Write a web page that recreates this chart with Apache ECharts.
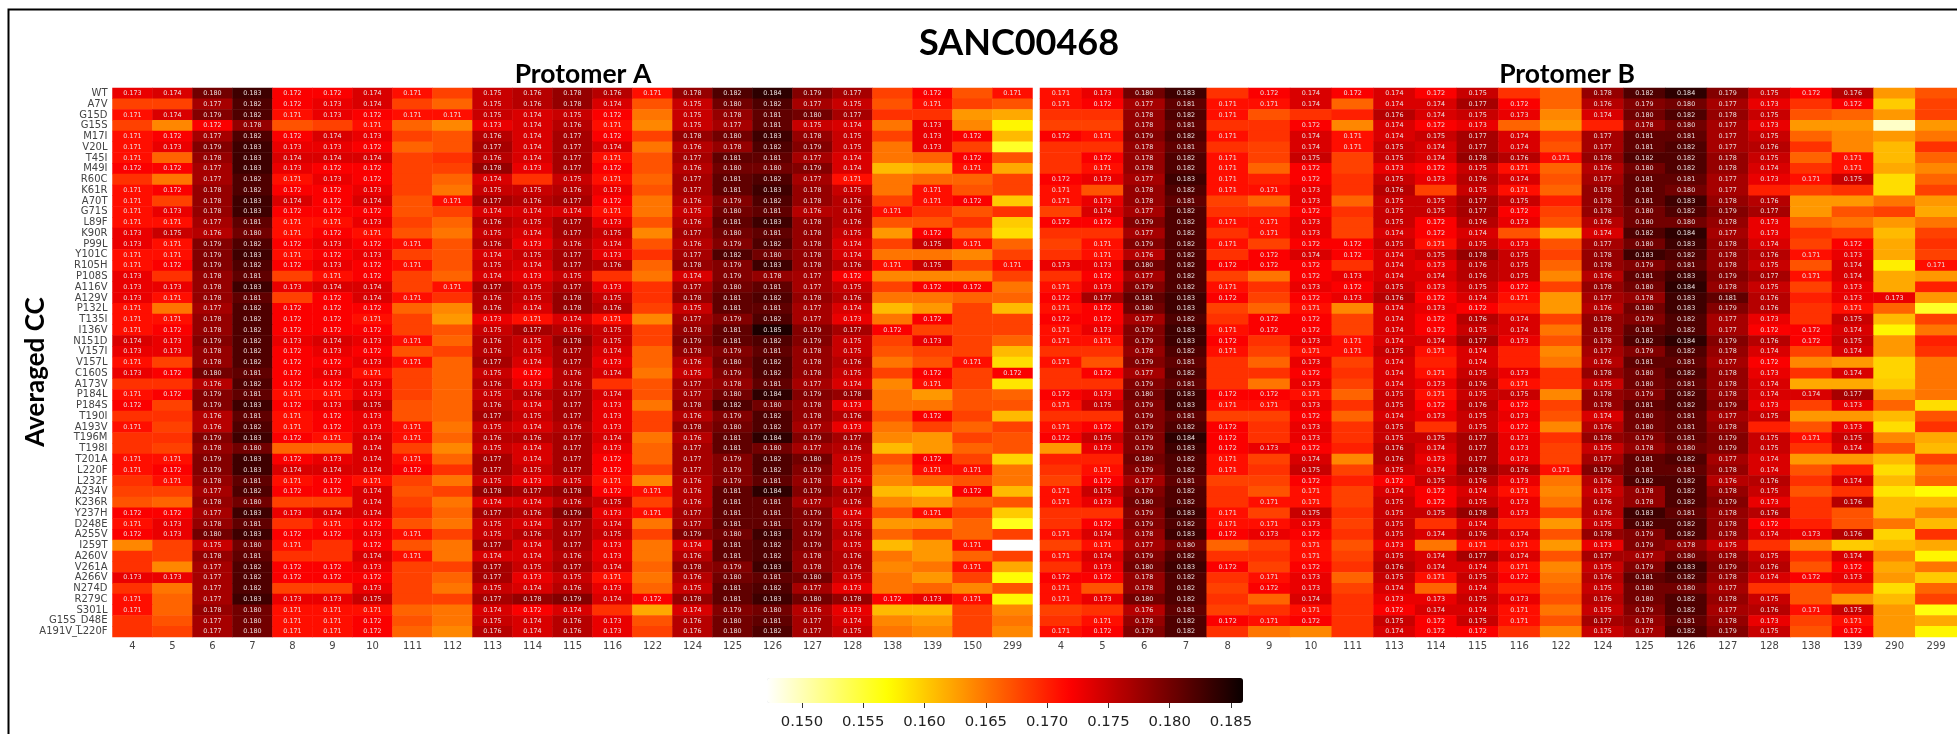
<!DOCTYPE html>
<html>
<head>
<meta charset="utf-8">
<title>SANC00468</title>
<script src="https://cdn.jsdelivr.net/npm/echarts@6/dist/echarts.min.js"></script>
<style>
html, body { margin: 0; padding: 0; background: #fff; }
#main { width: 1957px; height: 734px; overflow: hidden; }
</style>
</head>
<body>
<div id="main"></div>
<script>
const mutations = ["WT","A7V","G15D","G15S","M17I","V20L","T45I","M49I","R60C","K61R","A70T","G71S","L89F","K90R","P99L","Y101C","R105H","P108S","A116V","A129V","P132L","T135I","I136V","N151D","V157I","V157L","C160S","A173V","P184L","P184S","T190I","A193V","T196M","T198I","T201A","L220F","L232F","A234V","K236R","Y237H","D248E","A255V","I259T","A260V","V261A","A266V","N274D","R279C","S301L","G15S_D48E","A191V_L220F"];
const residuesA = ["4","5","6","7","8","9","10","111","112","113","114","115","116","122","124","125","126","127","128","138","139","150","299"];
const residuesB = ["4","5","6","7","8","9","10","111","113","114","115","116","122","124","125","126","127","128","138","139","290","299"];
const colorbarTicks = [0.150, 0.155, 0.160, 0.165, 0.170, 0.175, 0.180, 0.185];

// averaged CC x 1000, one line per mutation. cells below 171 have no printed value, estimated from colour
const protomerA = [
  [173,174,180,183,172,172,174,171,168,175,176,178,176,171,178,182,184,179,177,168,172,167,171],
  [168,168,177,182,172,173,174,168,166,175,176,178,174,167,175,180,182,177,175,167,171,168,167],
  [171,174,179,182,171,173,172,171,171,175,174,175,172,165,175,178,181,180,177,169,169,163,162],
  [168,164,172,178,167,168,171,166,164,173,174,176,171,164,175,177,181,175,174,165,173,164,157.5],
  [171,172,177,182,172,174,173,168,167,176,174,177,172,168,178,180,183,178,175,168,173,172,161],
  [171,173,179,183,173,173,172,166,167,177,174,177,174,165,176,178,182,179,175,165,173,168,155.5],
  [171,166,178,183,174,174,174,168,169,176,174,177,171,167,177,181,181,177,174,165,166,172,167],
  [172,172,177,183,173,172,172,168,168,178,173,177,172,167,176,180,180,179,174,161,162,171,162],
  [169,165,177,182,171,173,172,168,166,174,169,175,171,166,177,181,182,177,171,165,166,166,168],
  [171,172,178,182,172,172,173,168,165,175,175,176,173,167,177,181,183,178,175,165,171,167,168],
  [171,168,178,183,174,172,174,167,171,177,176,177,172,165,176,179,182,178,176,168,171,172,160],
  [171,173,178,183,172,172,172,167,168,174,174,174,171,165,175,180,181,176,176,171,169,167,169],
  [171,171,177,181,171,171,173,168,166,176,175,177,173,167,176,181,183,178,176,167,167,169,160],
  [173,175,176,180,171,172,171,167,165,175,174,177,175,164,177,180,181,178,175,163,172,166,159],
  [173,171,179,182,172,173,172,171,167,176,173,176,174,167,176,179,182,178,174,168,175,171,166],
  [171,171,179,183,171,172,173,168,167,174,175,177,173,169,177,182,180,178,174,165,165,164,168],
  [171,172,179,182,172,173,172,171,167,175,174,177,176,166,178,179,183,178,176,171,175,168,171],
  [173,169,178,181,168,171,172,168,166,174,173,175,169,165,174,179,178,177,172,164,164,164,168],
  [173,173,178,183,173,174,174,168,171,177,175,177,173,169,177,180,181,177,175,168,172,172,165],
  [173,171,178,181,168,172,174,171,169,176,175,178,175,169,178,181,182,178,176,165,165,166,166],
  [171,165,177,182,172,172,172,166,164,176,174,178,176,168,175,181,181,177,174,161,163,168,161],
  [171,171,178,182,172,172,171,168,163,173,171,174,171,164,177,179,182,177,173,165,172,168,168],
  [171,172,178,182,172,172,172,168,167,175,177,176,175,168,178,181,185,179,177,172,168,168,168],
  [174,173,179,182,173,174,173,171,166,176,175,178,175,168,179,181,182,179,175,168,173,168,166],
  [173,173,178,182,172,173,172,167,168,176,175,177,174,166,178,179,181,178,175,167,168,168,161],
  [171,168,178,182,172,172,173,171,166,177,174,177,173,166,176,180,182,178,176,165,167,171,159],
  [173,172,180,181,172,173,171,168,166,175,172,176,174,165,175,179,182,178,175,168,172,168,172],
  [169,169,176,182,172,172,173,168,166,176,173,176,169,167,177,178,181,177,174,164,171,168,158.5],
  [171,172,179,181,171,171,173,168,166,175,176,177,174,167,177,180,184,179,178,165,163,167,166],
  [172,168,179,183,172,173,175,167,166,176,174,177,173,165,178,182,180,178,173,165,165,167,167],
  [169,169,176,181,171,172,173,167,166,177,175,177,173,168,176,179,182,178,176,167,172,168,161],
  [171,168,176,182,171,172,173,171,165,175,174,176,173,168,178,180,182,177,173,165,168,166,168],
  [169,169,179,183,172,171,174,171,166,176,176,177,174,165,176,181,184,179,177,164,163,168,167],
  [169,168,178,180,166,166,174,168,164,175,174,177,173,166,177,181,180,177,176,161,163,166,167],
  [171,171,179,183,172,173,174,171,166,177,174,177,172,166,177,179,182,180,175,167,172,168,159.5],
  [171,172,179,183,174,174,174,172,169,177,175,177,172,168,177,179,182,179,175,165,171,171,165],
  [169,171,178,181,171,172,171,168,165,175,173,175,171,164,176,179,181,178,174,164,166,167,165],
  [168,168,177,182,172,172,174,167,168,178,177,178,172,171,176,181,184,179,177,161,160,172,161],
  [167,166,178,180,168,168,174,168,165,174,174,176,175,168,176,181,181,177,176,164,163,166,167],
  [172,172,177,183,173,174,174,169,166,177,176,179,173,171,177,181,181,179,174,167,171,168,160],
  [171,173,178,181,169,171,172,167,165,175,174,177,174,165,177,181,181,179,175,163,163,166,156],
  [172,173,180,183,172,172,173,171,168,175,176,177,175,168,179,180,183,179,176,166,168,166,168],
  [164,168,175,180,171,169,172,167,165,177,174,177,173,165,174,181,182,179,175,161,163,171,147.2],
  [169,168,178,181,169,169,174,171,165,174,174,176,173,165,176,181,182,178,176,165,163,166,168],
  [169,164,177,182,172,172,173,168,168,177,175,177,174,166,178,179,183,178,176,164,165,171,162],
  [173,173,177,182,172,172,172,168,166,177,173,175,171,165,176,180,181,180,175,165,163,168,157],
  [169,165,177,182,168,168,173,168,165,175,174,176,173,166,175,181,182,177,173,165,166,164,167],
  [171,166,177,183,173,173,175,168,168,177,178,179,174,172,178,181,183,180,178,172,173,171,157.5],
  [171,166,178,180,171,171,171,166,165,174,172,174,169,162,174,179,180,176,173,161,161,168,164],
  [169,167,177,180,171,171,172,167,165,175,174,176,173,167,176,180,181,177,174,164,163,168,165],
  [169,168,177,180,171,171,172,166,164,176,174,176,173,168,176,180,182,177,175,165,164,168,164]
];
const protomerB = [
  [171,173,180,183,169,172,174,172,174,172,175,169,166,178,182,184,179,175,172,176,163,167],
  [171,172,177,181,171,171,174,166,174,174,177,172,166,176,179,180,177,173,169,172,160,168],
  [169,169,178,182,171,167,169,170,176,174,175,173,164,174,180,182,178,175,167,166,163,168],
  [168,168,178,181,169,169,172,164,174,172,173,166,163,170,178,180,177,173,163,163,149.3,163],
  [172,171,179,182,171,169,174,171,174,175,177,174,168,177,181,181,177,175,166,164,163,165],
  [169,169,178,181,169,168,174,171,175,174,177,174,167,177,181,182,177,176,169,164,161,169],
  [169,172,178,182,171,168,175,168,175,174,178,176,171,178,182,182,178,175,166,171,161,166],
  [169,171,178,182,171,166,172,168,173,172,175,171,166,176,180,182,178,174,169,171,162,164],
  [172,173,177,183,171,170,172,169,175,173,176,174,167,177,181,181,177,173,171,175,159,166],
  [171,167,178,182,171,171,173,169,176,168,175,171,166,178,181,180,177,170,168,169,159,168],
  [171,173,178,181,168,166,173,166,175,175,177,175,170,178,181,183,178,176,163,163,165,163],
  [168,174,177,182,169,169,172,169,175,175,177,172,168,178,180,182,179,177,163,167,168,162],
  [172,172,179,182,171,171,173,168,175,172,176,173,167,176,180,180,178,173,166,165,163,165],
  [169,169,177,182,169,171,173,168,174,172,174,167,161,174,182,184,177,173,169,168,161,168],
  [168,171,179,182,171,168,172,172,175,171,175,173,167,177,180,183,178,174,168,172,162,169],
  [169,171,176,182,169,172,174,172,174,175,178,175,168,178,183,182,178,176,171,173,162,168],
  [173,173,180,182,172,172,172,169,174,173,176,175,166,178,179,181,178,175,167,174,158,171],
  [169,172,177,182,168,165,172,173,174,174,176,175,164,176,181,183,179,177,171,174,162,163],
  [171,173,179,182,171,169,173,172,175,173,175,172,168,178,180,184,178,175,168,173,162,170],
  [172,177,181,183,172,168,172,173,176,172,174,171,163,177,178,183,181,176,170,173,173,163],
  [171,172,180,183,168,166,171,164,174,173,172,170,163,176,180,183,179,176,169,171,166,155.5],
  [172,172,177,182,169,172,172,168,174,172,176,174,168,178,179,182,177,173,169,175,161,168],
  [171,173,179,183,171,172,172,168,174,172,175,174,165,178,181,182,177,172,172,174,157.5,165],
  [171,171,179,183,172,169,173,171,174,174,177,173,167,178,182,184,179,176,172,175,163,170],
  [169,169,178,182,171,168,171,171,175,171,174,170,164,177,179,182,178,174,168,174,163,169],
  [171,167,179,181,169,166,173,168,174,170,174,170,165,176,181,181,177,172,164,163,159.5,165],
  [169,172,177,182,169,169,172,169,174,171,175,173,169,178,180,182,178,173,169,174,159.5,165],
  [169,169,179,181,169,165,173,168,174,173,176,171,169,175,180,181,178,174,162,162,160,165],
  [172,173,180,183,172,172,171,166,175,171,175,175,164,178,179,182,178,174,174,177,163,165],
  [171,175,179,183,171,171,173,169,175,172,176,172,168,178,181,182,179,173,168,173,166,159],
  [169,169,179,181,168,168,172,166,174,173,175,173,167,174,180,181,177,175,163,163,161,167],
  [171,172,179,182,172,169,173,169,175,169,175,172,164,176,180,181,178,170,167,173,159,169],
  [172,175,179,184,172,169,173,169,175,175,177,173,169,178,179,181,179,175,171,175,164,162],
  [163,173,179,183,172,173,172,170,176,174,177,173,168,175,178,180,179,175,169,174,167,161],
  [170,170,180,182,171,168,174,164,176,173,177,173,168,177,181,182,177,174,163,163,161,168],
  [169,171,179,182,171,169,175,168,175,174,178,176,171,179,181,181,178,174,167,170,159,165],
  [168,172,177,181,168,168,172,170,172,175,176,173,165,176,182,182,176,176,169,174,161,166],
  [171,175,179,182,169,167,171,168,174,172,174,171,164,175,178,182,178,175,167,169,158.5,157],
  [171,173,180,182,169,171,171,168,175,172,175,173,165,176,178,182,179,173,169,176,161,161],
  [169,169,179,183,171,168,175,169,175,175,178,173,168,176,183,181,178,176,169,167,161,164],
  [169,172,179,182,171,171,173,168,175,169,174,170,163,175,182,182,178,172,170,167,165,161],
  [171,174,178,183,172,173,172,169,175,174,176,174,167,178,179,182,178,174,173,176,159.5,169],
  [168,171,177,180,166,168,171,167,173,165,171,171,163,173,179,178,175,169,164,160,161,162],
  [171,174,179,182,169,169,171,168,175,174,177,174,167,177,177,180,178,175,169,174,164,157.5],
  [169,173,180,183,172,168,172,169,176,174,174,171,164,175,179,183,179,176,167,172,162,165],
  [172,172,178,182,169,171,173,166,175,171,175,172,165,176,181,182,178,174,172,173,163,160],
  [171,167,178,182,168,172,173,168,174,166,174,170,166,175,180,180,177,169,167,169,159,166],
  [171,173,180,182,169,166,174,169,173,173,175,173,167,176,180,182,178,175,167,163,161,168],
  [168,169,176,181,168,169,171,169,172,174,174,171,165,175,179,182,177,176,171,175,163,156.5],
  [169,171,178,182,172,171,172,169,175,172,175,171,167,177,178,181,178,173,168,171,163,162],
  [171,172,179,182,169,165,164,169,174,172,172,169,164,175,177,182,179,175,167,172,163,157.5]
];

// colorbar limits
const cMin = 0.14715;
const cMax = 0.18598;

// matplotlib hot_r
function hotR(n) {
  const out = [];
  for (let i = 0; i < n; i++) {
    const t = 1 - i / (n - 1);
    const r = t < 0.365 ? 0.0416 + (t / 0.365) * 0.9584 : 1;
    const g = t < 0.365 ? 0 : t < 0.746 ? (t - 0.365) / 0.381 : 1;
    const b = t < 0.746 ? 0 : (t - 0.746) / 0.254;
    out.push(`rgb(${Math.round(r * 255)},${Math.round(g * 255)},${Math.round(b * 255)})`);
  }
  return out;
}

function toCells(rows) {
  const cells = [];
  rows.forEach((row, y) => {
    row.forEach((v, x) => cells.push([x, y, v / 1000]));
  });
  return cells;
}

function heatSeries(index, rows) {
  return {
    type: "heatmap",
    xAxisIndex: index,
    yAxisIndex: index,
    data: toCells(rows),
    progressive: 0,
    label: {
      show: true,
      fontFamily: "DejaVu Sans",
      fontSize: 6.4,
      color: "#eadfdf",
      formatter: (p) => (p.value[2] >= 0.1705 ? p.value[2].toFixed(3) : ""),
    },
  };
}

const axisFont = { fontFamily: "DejaVu Sans", fontSize: 10, color: "#444" };
const headFont = "Lato";

const myChart = echarts.init(document.getElementById("main"), null, { renderer: "canvas" });
myChart.setOption({
  animation: false,
  backgroundColor: "#fff",
  title: [
    { text: "SANC00468", left: 1014, top: 20, textAlign: "center", textStyle: { fontFamily: headFont, fontWeight: 700, fontSize: 36, color: "#000" } },
    { text: "Protomer A", left: 578, top: 56, textAlign: "center", textStyle: { fontFamily: headFont, fontWeight: 700, fontSize: 26.5, color: "#000" } },
    { text: "Protomer B", left: 1562, top: 56, textAlign: "center", textStyle: { fontFamily: headFont, fontWeight: 700, fontSize: 26.5, color: "#000" } },
  ],
  grid: [
    { left: 112.5, top: 88, width: 920, height: 549 },
    { left: 1040, top: 88, width: 922, height: 549 },
    { left: 767, top: 678, width: 476, height: 25 },
  ],
  xAxis: [
    { type: "category", gridIndex: 0, data: residuesA, axisLine: { show: false }, axisTick: { show: false }, axisLabel: { ...axisFont, interval: 0, margin: 4 }, splitLine: { show: false } },
    { type: "category", gridIndex: 1, data: residuesB, axisLine: { show: false }, axisTick: { show: false }, axisLabel: { ...axisFont, interval: 0, margin: 4 }, splitLine: { show: false } },
    {
      type: "value",
      gridIndex: 2,
      min: cMin,
      max: cMax,
      axisLine: { show: false },
      splitLine: { show: false },
      axisTick: { show: true, length: 5, lineStyle: { color: "#333", width: 1 }, customValues: colorbarTicks },
      axisLabel: { fontFamily: "DejaVu Sans", fontSize: 14.8, color: "#222", margin: 12, customValues: colorbarTicks, formatter: (v) => v.toFixed(3) },
    },
  ],
  yAxis: [
    { type: "category", gridIndex: 0, inverse: true, data: mutations, axisLine: { show: false }, axisTick: { show: false }, axisLabel: { ...axisFont, interval: 0, margin: 5 }, splitLine: { show: false } },
    { type: "category", gridIndex: 1, inverse: true, data: mutations, axisLine: { show: false }, axisTick: { show: false }, axisLabel: { show: false }, splitLine: { show: false } },
    { type: "value", gridIndex: 2, show: false, min: 0, max: 1 },
  ],
  visualMap: {
    type: "continuous",
    seriesIndex: [0, 1],
    min: cMin,
    max: cMax,
    orient: "horizontal",
    left: 767,
    top: 678,
    itemWidth: 25,
    itemHeight: 476,
    padding: 0,
    calculable: false,
    realtime: false,
    hoverLink: false,
    showLabel: false,
    text: null,
    inRange: { color: hotR(65) },
  },
  graphic: [
    { type: "polyline", silent: true, shape: { points: [[8.5, 734], [8.5, 9.5], [1957, 9.5]] }, style: { stroke: "#000", lineWidth: 2, fill: null } },
    {
      type: "text",
      silent: true,
      x: 36,
      y: 372,
      rotation: Math.PI / 2,
      style: { text: "Averaged CC", fontFamily: headFont, fontWeight: 700, fontSize: 26, fill: "#000", align: "center", verticalAlign: "middle" },
    },
  ],
  series: [heatSeries(0, protomerA), heatSeries(1, protomerB)],
});
</script>
</body>
</html>
